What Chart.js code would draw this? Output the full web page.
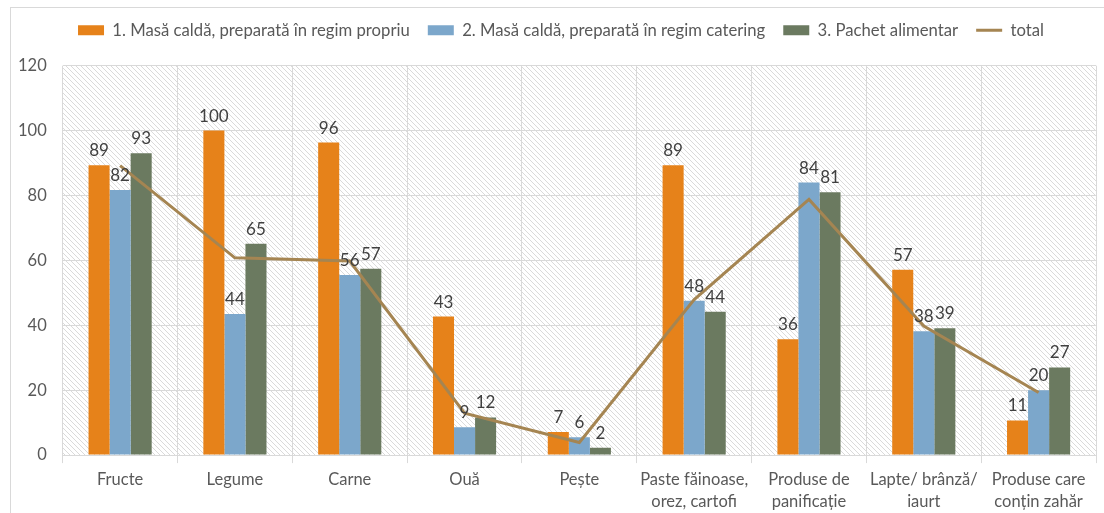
<!DOCTYPE html>
<html><head><meta charset="utf-8">
<script src="https://cdn.jsdelivr.net/npm/chart.js@4"></script>
<style>html,body{margin:0;padding:0;background:#fff}#w{position:absolute;left:0;top:0;width:1104px;height:513px}</style>
</head><body><div id="w"><canvas id="c"></canvas></div>
<script>
const categories = ["Fructe","Legume","Carne","Ouă","Pește",["Paste făinoase,","orez, cartofi"],["Produse de","panificație"],["Lapte/ brânză/","iaurt"],["Produse care","conțin zahăr"]];
const seriesNames = ["1. Masă caldă, preparată în regim propriu","2. Masă caldă, preparată în regim catering","3. Pachet alimentar","total"];
const propriu = [89.3, 100, 96.3, 42.7, 7.1, 89.3, 35.7, 57.1, 10.7];
const catering = [81.7, 43.5, 55.5, 8.6, 5.5, 47.6, 84.0, 38.2, 20.0];
const pachet = [93.0, 65.1, 57.4, 11.6, 2.3, 44.2, 81.0, 39.1, 27.0];
const total = [89.2, 60.8, 59.8, 12.9, 3.9, 47.9, 78.8, 39.8, 19.3];
const yTicks = [0,20,40,60,80,100,120];

const FONT = "Lato, 'Open Sans', sans-serif";
const colors = ["#E6821A","#7CA7CB","#6B7A60","#A58552"];

function hatch(){
  const p = document.createElement('canvas'); p.width = 5; p.height = 5;
  const g = p.getContext('2d');
  g.fillStyle = '#fff'; g.fillRect(0,0,5,5);
  g.strokeStyle = '#DADADA'; g.lineWidth = 1;
  g.beginPath(); g.moveTo(-1,-1); g.lineTo(6,6); g.moveTo(-1,4); g.lineTo(1,6); g.moveTo(4,-1); g.lineTo(6,1); g.stroke();
  return p;
}
const bgPlugin = {
  id:'bg',
  beforeInit(chart){
    const lg = chart.legend;
    if (lg) {
      const orig = lg.fit; lg.fit = function(){ orig.call(this); this.height += 17; };
      const od = lg.draw; lg.draw = function(a){ const c = this.ctx; c.save(); c.translate(12,0); od.call(this,a); c.restore(); };
    }
  },
  beforeDraw(chart){
    const {ctx, chartArea:a} = chart;
    ctx.save();
    ctx.strokeStyle = '#D9D9D9'; ctx.lineWidth = 1;
    ctx.strokeRect(10.5, 7.5, 1100, 520);
    ctx.fillStyle = ctx.createPattern(hatch(), 'repeat');
    ctx.fillRect(a.left, a.top, a.right-a.left, a.bottom-a.top);
    ctx.restore();
  }
};
const labelPlugin = {
  id:'lbl',
  afterDraw(chart){
    const ctx = chart.ctx;
    ctx.save();
    ctx.font = "17px " + FONT; ctx.fillStyle = '#404040';
    ctx.textAlign = 'center'; ctx.textBaseline = 'bottom';
    [1,2,3].forEach(di=>{
      const meta = chart.getDatasetMeta(di);
      meta.data.forEach((el,i)=>{
        const v = chart.data.datasets[di].data[i];
        ctx.fillText(String(Math.round(v)), el.x, el.y - 6);
      });
    });
    ctx.restore();
  }
};

new Chart(document.getElementById('c'), {
  data:{
    labels: categories,
    datasets:[
      {type:'line', label:seriesNames[3], data:total, borderColor:colors[3], backgroundColor:colors[3], borderWidth:3, pointRadius:0, tension:0, order:0},
      {type:'bar', label:seriesNames[0], data:propriu, backgroundColor:colors[0], order:1},
      {type:'bar', label:seriesNames[1], data:catering, backgroundColor:colors[1], order:1},
      {type:'bar', label:seriesNames[2], data:pachet, backgroundColor:colors[2], order:1}
    ]
  },
  options:{
    responsive:true, maintainAspectRatio:false, animation:false,
    layout:{padding:{left:2, right:8, top:4, bottom:-5}},
    datasets:{bar:{barPercentage:1, categoryPercentage:0.55}},
    plugins:{
      legend:{position:'top',
        labels:{font:{family:FONT, size:16.7}, color:'#595959', usePointStyle:true, pointStyleWidth:26, boxHeight:10, padding:18,
          sort:(a,b)=> (a.datasetIndex===0?4:a.datasetIndex) - (b.datasetIndex===0?4:b.datasetIndex),
          generateLabels(chart){
            const items = Chart.defaults.plugins.legend.labels.generateLabels(chart);
            items.forEach(it=>{
              if(it.datasetIndex===0){ it.pointStyle='line'; it.lineWidth=3; it.strokeStyle=colors[3]; }
              else { it.pointStyle='rect'; it.lineWidth=0; }
            });
            return items;
          }
        }},
      tooltip:{enabled:false}
    },
    scales:{
      x:{grid:{color:'#D9D9D9', tickLength:8, offset:true}, border:{color:'#D9D9D9'},
         ticks:{font:{family:FONT, size:16.5, lineHeight:1.3}, color:'#595959', maxRotation:0, autoSkip:false, padding:6}},
      y:{min:0, max:120, afterBuildTicks(ax){ ax.ticks = yTicks.map(v=>({value:v})); },
         grid:{color:'#D9D9D9', drawTicks:false}, border:{display:false},
         ticks:{font:{family:FONT, size:16.5}, color:'#595959', padding:16}}
    }
  },
  plugins:[bgPlugin, labelPlugin]
});
</script></body></html>
